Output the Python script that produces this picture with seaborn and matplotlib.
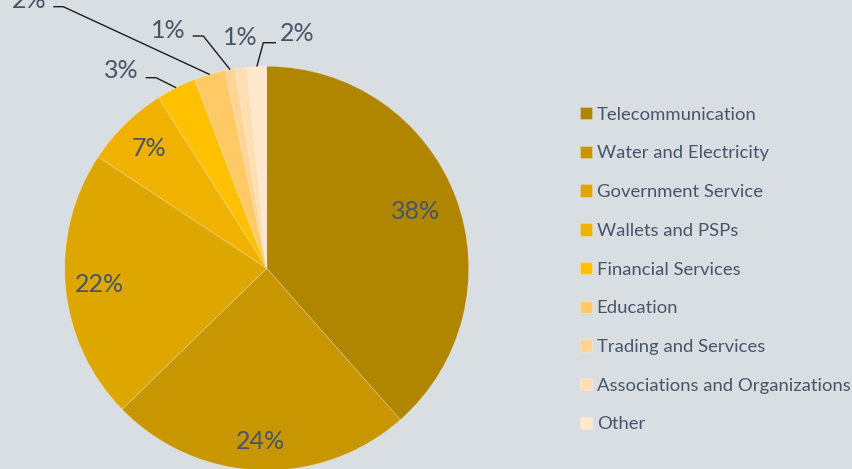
import matplotlib
matplotlib.use("Agg")
import matplotlib.pyplot as plt
import seaborn as sns
import numpy as np

# ---- data ----
categories = ["Telecommunication", "Water and Electricity", "Government Service",
              "Wallets and PSPs", "Financial Services", "Education",
              "Trading and Services", "Associations and Organizations", "Other"]
shares = [38.5, 24.2, 21.6, 6.7, 3.2, 2.5, 0.8, 0.95, 1.55]
pct_labels = [38, 24, 22, 7, 3, 2, 1, 1, 2]

# ---- styles ----
colors = ["#b08600", "#c89600", "#dea700", "#f0b100", "#ffc000",
          "#ffc966", "#ffd494", "#ffdfb2", "#ffe8cb"]
bg = "#d9dee2"
txt = "#485568"
W, H = 853, 469
CX, CY, R = 266.7, 469 - 268.3, 202

sns.set_theme(style="white")
plt.rcParams["font.family"] = ["Lato", "DejaVu Sans"]

fig = plt.figure(figsize=(W / 100, H / 100), dpi=100, facecolor=bg)
ax = fig.add_axes([0, 0, 1, 1])
ax.set_facecolor(bg)

wedges, _ = ax.pie(shares, colors=sns.color_palette(colors), startangle=90,
                   counterclock=False, center=(CX, CY), radius=R,
                   wedgeprops=dict(linewidth=0.6, edgecolor=(1, 1, 1, 0.25)))
ax.set_xlim(0, W)
ax.set_ylim(0, H)
ax.set_aspect("auto")
ax.axis("off")

def edge_point(w, frac):
    ang = np.deg2rad((w.theta1 + w.theta2) / 2)
    return CX + frac * R * np.cos(ang), CY + frac * R * np.sin(ang)

# inside labels
inside = {0: 0.79, 1: 0.86, 2: 0.83, 3: 0.83}
for i, f in inside.items():
    x, y = edge_point(wedges[i], f)
    ax.text(x, y, f"{pct_labels[i]}%", ha="center", va="center",
            fontsize=18, color=txt)

# outside labels: (elbow point, line end, text anchor, ha), pixel coords y-down
outside = {
    4: ((156, 77.7), (145.7, 77.7), (139, 70.7), "right"),
    5: ((63.3, 6.7), (53.3, 6.7), (46.5, 0.0), "right"),
    6: ((203.3, 36), (192.7, 36), (185.5, 30.0), "right"),
    8: ((263.3, 42.7), (276, 42.7), (280, 33.7), "left"),
}
for i, (elbow, end, tpos, ha) in outside.items():
    x0, y0 = edge_point(wedges[i], 1.0)
    ax.plot([x0, elbow[0], end[0]], [y0, H - elbow[1], H - end[1]],
            color="#1e1e1e", lw=1.0, solid_capstyle="butt")
    ax.text(tpos[0], H - tpos[1], f"{pct_labels[i]}%", ha=ha, va="center",
            fontsize=18, color=txt)
# associations label (no leader line)
ax.text(240.5, H - 37.5, f"{pct_labels[7]}%", ha="center", va="center",
        fontsize=18, color=txt)

leg = ax.legend(wedges, categories, loc="upper left",
                bbox_to_anchor=(580 / W, 1 - 106.7 / H), frameon=False,
                fontsize=13.3, labelcolor=txt, handlelength=0.65,
                handleheight=0.65, handletextpad=0.25, labelspacing=1.23,
                borderpad=0, borderaxespad=0)

fig.savefig("out.png", dpi=100, facecolor=bg)
